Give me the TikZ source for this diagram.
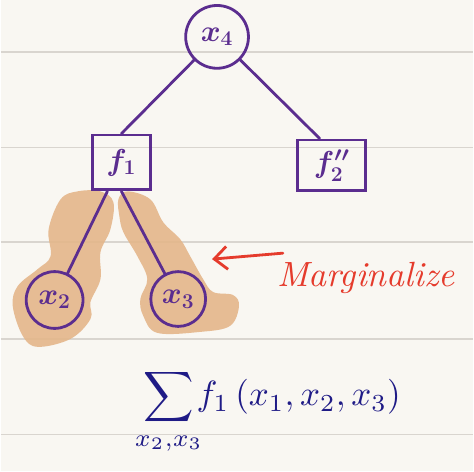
\documentclass[tikz,border=0pt]{standalone}
\usepackage{fontspec}
\usetikzlibrary{arrows.meta,positioning}
\definecolor{paper}{HTML}{F9F7F2}
\definecolor{rule}{HTML}{D9D5CF}
\definecolor{treepurple}{HTML}{5B2D8F}
\definecolor{blobtan}{HTML}{E4B68A}
\definecolor{markred}{HTML}{E53B2C}
\definecolor{inknavy}{HTML}{1F1B86}

\begin{document}
\begin{tikzpicture}[
  x=0.02cm, y=-0.02cm,
  varnode/.style={circle, draw=treepurple, line width=1.6pt, text=treepurple, inner sep=0pt, font=\LARGE\boldmath},
  factor/.style={rectangle, draw=treepurple, line width=1.6pt, text=treepurple, inner sep=0pt, font=\LARGE\boldmath},
  edge/.style={draw=treepurple, line width=1.6pt, line cap=round},
  blob/.style={fill=blobtan, fill opacity=0.9, draw=none},
  arrow/.style={-{Straight Barb[length=2.6mm, width=4.6mm]}, draw=markred, line width=1.6pt, line cap=round}
]
\fill[paper] (0,0) rectangle (474,473);
\foreach \y in {52,148,243,340,436}
  \draw[rule, line width=0.9pt] (0,\y) -- (474,\y);

\fill[blob] plot[smooth cycle, tension=0.6] coordinates {(60,200) (77,192) (100,192) (113,203) (110,230) (100,253) (100,280) (90,303) (90,320) (70,340) (37,348) (22,337) (12,307) (17,287) (37,270) (50,257) (48,230)};
\fill[blob] plot[smooth cycle, tension=0.6] coordinates {(118,200) (127,192) (150,200) (163,223) (180,240) (190,257) (203,280) (213,293) (233,296) (239,307) (230,327) (200,333) (157,334) (143,317) (140,300) (147,280) (137,257) (123,233) (119,217)};

\node[varnode, minimum width=1.26cm, minimum height=1.2cm] (x4) at (217,37) {$x_4$};
\node[factor, minimum width=1.16cm, minimum height=1.1cm] (f1) at (121,163) {$f_1$};
\node[factor, minimum width=1.36cm, minimum height=1.02cm] (f2) at (332,166) {$f_2''$};
\node[varnode, minimum size=1.14cm] (x2) at (54,301) {$x_2$};
\node[varnode, minimum size=1.1cm] (x3) at (178,300) {$x_3$};

\draw[edge] (x4) -- (f1.north);
\draw[edge] (x4) -- ([xshift=-0.24cm]f2.north);
\draw[edge] (f1) -- (x2);
\draw[edge] (f1.south) -- (x3);

\coordinate (tail) at (283,254);
\coordinate (tip) at (212,260);
\draw[arrow] (tail) -- (tip);
\node[anchor=base west, text=markred, inner sep=0pt, scale=2, font=\itshape] (marg) at (277,287) {Marginalize};

\node[text=inknavy, inner sep=0pt, scale=2] (sum) at (268,413) {$\displaystyle\sum_{x_2,x_3}\!\! f_1\,(x_1,x_2,x_3)$};
\end{tikzpicture}
\end{document}
